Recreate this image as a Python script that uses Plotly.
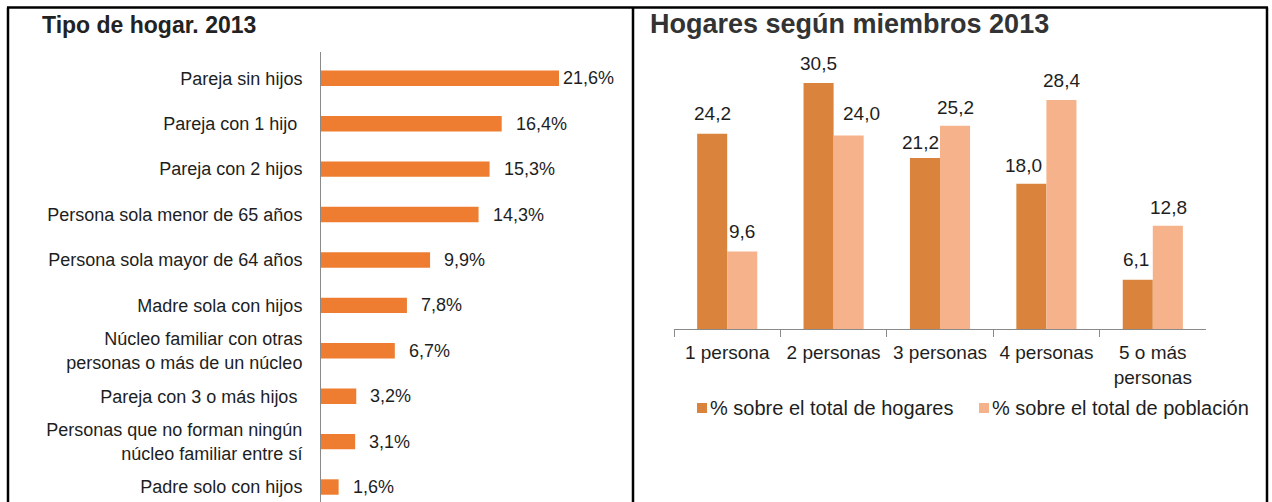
import plotly.graph_objects as go

# ---------------- data ----------------
title_left = "Tipo de hogar. 2013"
title_right = "Hogares según miembros 2013"

tipos = [
    "Pareja sin hijos",
    "Pareja con 1 hijo\u00a0",
    "Pareja con 2 hijos",
    "Persona sola menor de 65 años",
    "Persona sola mayor de 64 años",
    "Madre sola con hijos",
    "Núcleo familiar con otras<br>personas o más de un núcleo",
    "Pareja con 3 o más hijos\u00a0",
    "Personas que no forman ningún<br>núcleo familiar entre sí",
    "Padre solo con hijos",
]
tipos_pct = [21.6, 16.4, 15.3, 14.3, 9.9, 7.8, 6.7, 3.2, 3.1, 1.6]

miembros = ["1 persona", "2 personas", "3 personas", "4 personas", "5 o más<br>personas"]
pct_hogares = [24.2, 30.5, 21.2, 18.0, 6.1]
pct_poblacion = [9.6, 24.0, 25.2, 28.4, 12.8]
series_names = ["% sobre el total de hogares", "% sobre el total de población"]

# ---------------- style ----------------
W, H = 1272, 502
FONT = "Liberation Sans, Arial, sans-serif"
TXT = "#1e1e1e"
ORANGE = "#EE7D31"
DARK = "#D9833D"
LIGHT = "#F6B28A"
AXIS = "#8a8a8a"


def px(x):
    return x / W


def py(y):
    return 1 - y / H


def fmt(v, pct=False):
    s = f"{v:.1f}".replace(".", ",")
    return s + ("%" if pct else "")


fig = go.Figure()

fig.add_trace(go.Bar(
    y=tipos, x=tipos_pct, orientation="h",
    xaxis="x", yaxis="y",
    marker=dict(color=ORANGE, line=dict(width=0)),
    width=0.34, showlegend=False, hoverinfo="x+y",
))
fig.add_trace(go.Bar(
    x=miembros, y=pct_hogares, name=series_names[0],
    xaxis="x2", yaxis="y2", showlegend=False,
    marker=dict(color=DARK, line=dict(width=0)),
))
fig.add_trace(go.Bar(
    x=miembros, y=pct_poblacion, name=series_names[1],
    xaxis="x2", yaxis="y2", showlegend=False,
    marker=dict(color=LIGHT, line=dict(width=0)),
))

annotations = []

# left value labels
left_xshift = [2] + [12] * (len(tipos) - 1)
for cat, v, xs in zip(tipos, tipos_pct, left_xshift):
    annotations.append(dict(
        x=v, y=cat, xref="x", yref="y", text=fmt(v, True),
        showarrow=False, xanchor="left", yanchor="middle", xshift=xs,
        font=dict(family=FONT, size=18, color=TXT),
    ))

# right value labels
dx_h = [0, 0, -5, -8, -2]
dy_h = [20, 20, 16, 18, 20]
dx_p = [0, 13, 0, 0, 1]
dy_p = [20, 22, 18, 19, 18]
for cat, v, dx, dy in zip(miembros, pct_hogares, dx_h, dy_h):
    annotations.append(dict(
        x=cat, y=v, xref="x2", yref="y2", text=fmt(v),
        showarrow=False, xanchor="center", yanchor="middle",
        xshift=-15 + dx, yshift=dy,
        font=dict(family=FONT, size=19, color=TXT),
    ))
for cat, v, dx, dy in zip(miembros, pct_poblacion, dx_p, dy_p):
    annotations.append(dict(
        x=cat, y=v, xref="x2", yref="y2", text=fmt(v),
        showarrow=False, xanchor="center", yanchor="middle",
        xshift=15 + dx, yshift=dy,
        font=dict(family=FONT, size=19, color=TXT),
    ))

# titles
annotations.append(dict(
    x=px(40), y=py(25), xref="paper", yref="paper", text=f"<b>{title_left}</b>",
    showarrow=False, xanchor="left", yanchor="middle",
    font=dict(family=FONT, size=23, color="#222222"),
))
annotations.append(dict(
    x=px(648), y=py(24), xref="paper", yref="paper", text=f"<b>{title_right}</b>",
    showarrow=False, xanchor="left", yanchor="middle",
    font=dict(family=FONT, size=27, color="#333333"),
))

# legend (drawn as key squares + texts)
legend_colors = [DARK, LIGHT]
legend_sq_x = [697, 979]
legend_y = 408
shapes = []
for name, col, sx in zip(series_names, legend_colors, legend_sq_x):
    shapes.append(dict(
        type="rect", xref="paper", yref="paper",
        x0=px(sx), x1=px(sx + 10), y0=py(legend_y + 5), y1=py(legend_y - 5),
        fillcolor=col, line=dict(width=0),
    ))
    annotations.append(dict(
        x=px(sx + 11), y=py(legend_y), xref="paper", yref="paper", text=name,
        showarrow=False, xanchor="left", yanchor="middle",
        font=dict(family=FONT, size=20, color=TXT),
    ))

# frame lines of the two-panel table
frame = dict(color="black", width=2.5)
shapes += [
    dict(type="line", xref="paper", yref="paper", x0=px(7), x1=px(1268), y0=py(7.5), y1=py(7.5), line=frame),
    dict(type="line", xref="paper", yref="paper", x0=px(8), x1=px(8), y0=py(7.5), y1=-0.05, line=frame),
    dict(type="line", xref="paper", yref="paper", x0=px(633), x1=px(633), y0=py(7.5), y1=-0.05, line=frame),
    dict(type="line", xref="paper", yref="paper", x0=px(1267), x1=px(1267), y0=py(7.5), y1=-0.05, line=frame),
]

x_left0, x_left1 = 321, 625
scale_left = (559 - 321) / 21.6
y_top_left = 52

fig.update_layout(
    width=W, height=H,
    margin=dict(l=0, r=0, t=0, b=0, autoexpand=False),
    paper_bgcolor="white", plot_bgcolor="rgba(0,0,0,0)",
    barmode="group", bargap=0.435, bargroupgap=0,
    showlegend=False,
    font=dict(family=FONT, color=TXT),
    xaxis=dict(
        domain=[px(x_left0), px(x_left1)],
        range=[0, (x_left1 - x_left0) / scale_left],
        visible=False, fixedrange=True,
    ),
    yaxis=dict(
        domain=[0, py(y_top_left)],
        range=[9.33, -0.58],
        type="category", categoryorder="array", categoryarray=tipos,
        showline=True, linecolor=AXIS, linewidth=1,
        ticks="", showgrid=False, zeroline=False,
        tickfont=dict(family=FONT, size=18, color=TXT),
        ticklabelstandoff=14,
        automargin=False, anchor="x", fixedrange=True,
    ),
    xaxis2=dict(
        domain=[px(674), px(1206)],
        range=[-0.5, 4.5],
        type="category",
        showline=True, linecolor=AXIS, linewidth=1,
        ticks="outside", tickson="boundaries", ticklen=7, tickcolor=AXIS, tickwidth=1,
        showgrid=False, zeroline=False, tickangle=0,
        tickfont=dict(family=FONT, size=19, color=TXT),
        ticklabelstandoff=6,
        automargin=False, anchor="y2", fixedrange=True,
    ),
    yaxis2=dict(
        domain=[py(329), py(50)],
        range=[0, (329 - 50) / ((329 - 83) / 30.5)],
        visible=False, anchor="x2", fixedrange=True,
    ),
    annotations=annotations,
    shapes=shapes,
)

fig.write_html(
    "out.html",
    config={"displayModeBar": False},
    post_script="document.body.style.margin='0';document.body.style.overflow='hidden';",
)
